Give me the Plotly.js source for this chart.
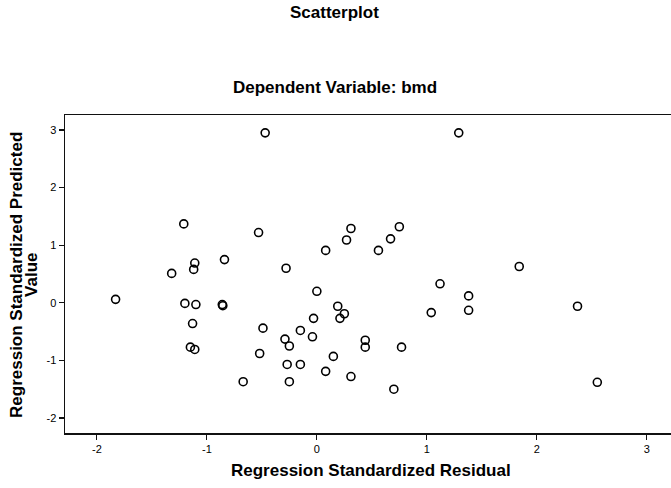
<!DOCTYPE html>
<html>
<head>
<meta charset="utf-8">
<script src="https://cdn.plot.ly/plotly-3.0.1.min.js"></script>
<style>html,body{margin:0;padding:0;background:#fff;}#chart{width:671px;height:488px;}</style>
</head>
<body>
<div id="chart"></div>
<script>
// Regression standardized residual (x) and standardized predicted value (y)
const residual = [
  -0.47, -1.21, -0.53, 0.31, 0.27, 0.08, -0.84, -1.11, -1.12, -1.32, -0.28,
  1.29, 0.75, 0.67, 0.56, 1.84,
  1.12, 1.38, 2.37, 1.04, 1.38, 0.44, 0.44, 0.77, 0.70, 2.55,
  -1.83, -1.20, -1.10, -0.86, -0.855, -1.13, -1.15, -1.11,
  0.00, 0.19, 0.25, 0.21, -0.03, -0.49, -0.15, -0.04, -0.29, -0.25, -0.52,
  -0.27, -0.15, 0.15, 0.08, 0.31, -0.67, -0.25
];
const predicted = [
  2.95, 1.37, 1.22, 1.29, 1.09, 0.91, 0.75, 0.69, 0.58, 0.51, 0.60,
  2.95, 1.32, 1.11, 0.91, 0.63,
  0.33, 0.12, -0.06, -0.17, -0.13, -0.65, -0.77, -0.77, -1.50, -1.38,
  0.06, -0.01, -0.03, -0.03, -0.05, -0.36, -0.77, -0.81,
  0.20, -0.06, -0.19, -0.27, -0.27, -0.44, -0.48, -0.59, -0.63, -0.75, -0.88,
  -1.07, -1.07, -0.93, -1.19, -1.28, -1.37, -1.37
];
const tickVals = [-2, -1, 0, 1, 2, 3];
const tickText = ["-2", "-1", "0", "1", "2", "3"];

const mainTitle = "Scatterplot";
const subTitle = "Dependent Variable: bmd";
const xTitle = "Regression Standardized Residual";
const yTitleLine1 = "Regression Standardized Predicted";
const yTitleLine2 = "Value";

const fontFam = "Arial, 'Liberation Sans', Helvetica, sans-serif";
const titleFont = {family: fontFam, size: 17, color: "#000", weight: "bold"};

const trace = {
  type: "scatter",
  mode: "markers",
  x: residual,
  y: predicted,
  marker: {symbol: "circle-open", size: 8, color: "#000", line: {width: 1.6, color: "#000"}},
  hoverinfo: "x+y"
};

const axisCommon = {
  showgrid: false,
  zeroline: false,
  showline: true,
  linecolor: "#111",
  linewidth: 1.5,
  ticks: "outside",
  ticklen: 5,
  tickwidth: 1.2,
  tickcolor: "#111",
  tickfont: {family: fontFam, size: 11, color: "#000"},
  tickmode: "array",
  tickvals: tickVals,
  ticktext: tickText,
  fixedrange: true
};

const layout = {
  width: 671,
  height: 488,
  margin: {l: 65, r: 0, t: 115, b: 55},
  paper_bgcolor: "#fff",
  plot_bgcolor: "#fff",
  showlegend: false,
  xaxis: Object.assign({}, axisCommon, {range: [-2.29, 3.22], mirror: true}),
  yaxis: Object.assign({}, axisCommon, {range: [-2.26, 3.26], mirror: false}),
  annotations: [
    {text: "<b>" + mainTitle + "</b>", xref: "paper", yref: "paper", x: 0.4455, y: 1.3208, xanchor: "center", yanchor: "middle", showarrow: false, font: titleFont},
    {text: "<b>" + subTitle + "</b>", xref: "paper", yref: "paper", x: 0.4463, y: 1.085, xanchor: "center", yanchor: "middle", showarrow: false, font: titleFont},
    {text: "<b>" + xTitle + "</b>", xref: "paper", yref: "paper", x: 0.505, y: -0.1164, xanchor: "center", yanchor: "middle", showarrow: false, font: titleFont},
    {text: "<b>" + yTitleLine1 + "</b>", xref: "paper", yref: "paper", x: -0.0792, y: 0.497, xanchor: "center", yanchor: "middle", textangle: -90, showarrow: false, font: titleFont},
    {text: "<b>" + yTitleLine2 + "</b>", xref: "paper", yref: "paper", x: -0.0545, y: 0.497, xanchor: "center", yanchor: "middle", textangle: -90, showarrow: false, font: titleFont}
  ]
};

Plotly.newPlot("chart", [trace], layout, {displayModeBar: false, staticPlot: true});
</script>
</body>
</html>
